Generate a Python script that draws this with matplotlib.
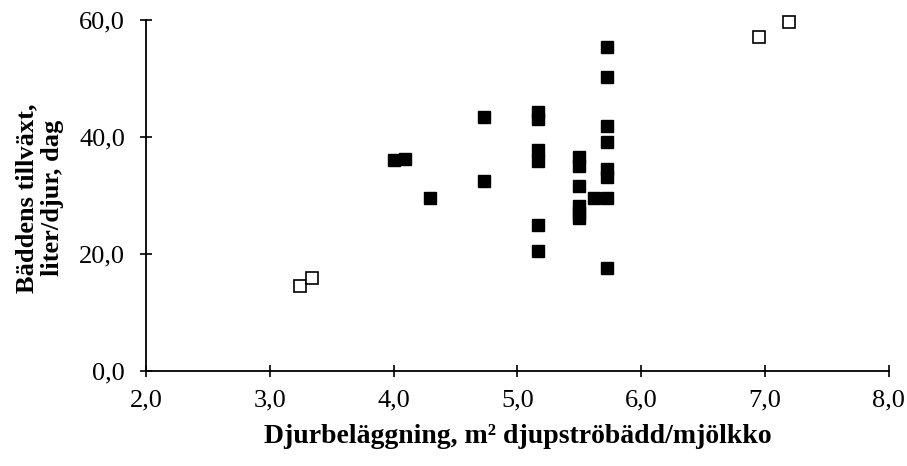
import matplotlib
matplotlib.use("Agg")
import matplotlib.pyplot as plt
from matplotlib.ticker import FuncFormatter

plt.rcParams['font.family'] = ['Liberation Serif', 'DejaVu Serif']

# filled squares: observed farms
x_filled = [4.00, 4.09, 4.29, 4.73, 4.73,
            5.17, 5.17, 5.17, 5.17, 5.17, 5.17,
            5.50, 5.50, 5.50, 5.50, 5.50, 5.50,
            5.62,
            5.72, 5.72, 5.72, 5.72, 5.72, 5.72, 5.72, 5.72]
y_filled = [36.0, 36.3, 29.6, 43.5, 32.4,
            44.2, 43.1, 37.8, 35.9, 25.0, 20.5,
            36.5, 35.0, 31.6, 28.2, 27.0, 26.2,
            29.6,
            55.4, 50.3, 41.8, 39.1, 34.6, 33.1, 29.6, 17.6]

# open squares
x_open = [3.24, 3.34, 6.95, 7.19]
y_open = [14.5, 15.9, 57.1, 59.7]

xticks = [2, 3, 4, 5, 6, 7, 8]
yticks = [0, 20, 40, 60]

fig = plt.figure(figsize=(9.07, 4.66), dpi=100)
ax = fig.add_axes([0.161, 0.204, 0.819, 0.753])

ax.plot(x_filled, y_filled, 's', color='black', markersize=8, clip_on=False)
ax.plot(x_open, y_open, 's', markerfacecolor='white', markeredgecolor='black',
        markersize=9, markeredgewidth=1.2, clip_on=False)

ax.set_xlim(2, 8)
ax.set_ylim(0, 60)
ax.set_xticks(xticks)
ax.set_yticks(yticks)
fmt = FuncFormatter(lambda v, p: f"{v:.1f}".replace('.', ','))
ax.xaxis.set_major_formatter(fmt)
ax.yaxis.set_major_formatter(fmt)

for s in ['top', 'right']:
    ax.spines[s].set_visible(False)
ax.spines['left'].set_linewidth(1.3)
ax.spines['bottom'].set_linewidth(1.3)
ax.tick_params(direction='inout', length=8, width=1.2, labelsize=19)
ax.tick_params(axis='x', pad=9)
ax.tick_params(axis='y', pad=11)

ax.set_xlabel('Djurbeläggning, m² djupströbädd/mjölkko', fontsize=20,
              fontweight='bold', va='center')
ax.xaxis.set_label_coords(0.5, -0.188)
ax.set_ylabel('Bäddens tillväxt,\nliter/djur, dag', fontsize=19,
              fontweight='bold', va='center', linespacing=1.15)
ax.yaxis.set_label_coords(-0.143, 0.493)

fig.savefig('out.png', dpi=100)
